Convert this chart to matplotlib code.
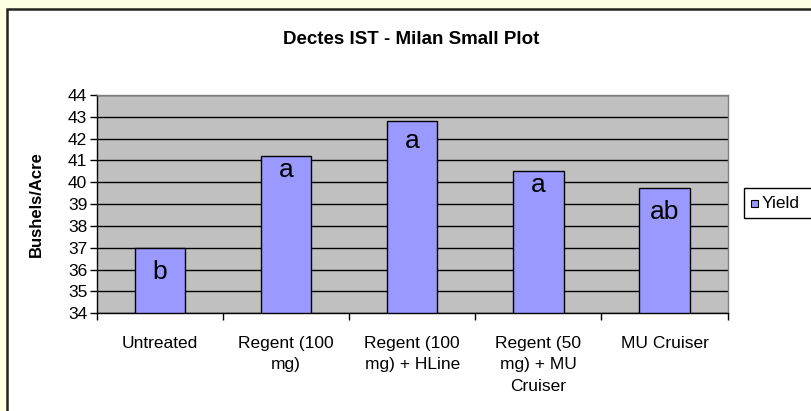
import matplotlib
matplotlib.use("Agg")
import matplotlib.pyplot as plt
from matplotlib.patches import Rectangle
import numpy as np

plt.rcParams['font.family'] = ['Liberation Sans', 'DejaVu Sans']

# data
categories = ["Untreated", "Regent (100\nmg)", "Regent (100\nmg) + HLine",
              "Regent (50\nmg) + MU\nCruiser", "MU Cruiser"]
yield_vals = [37.0, 41.2, 42.8, 40.5, 39.75]
letters = ["b", "a", "a", "a", "ab"]
letter_y = [35.9, 40.55, 41.9, 39.9, 38.65]
series_name = "Yield"
bar_color = "#9999FF"

W, H = 811, 411
fig = plt.figure(figsize=(W / 100, H / 100), dpi=100)
fig.patch.set_facecolor("#FFFFE3")

def px(x0, y0):
    # pixel (from top-left) -> figure fraction
    return (x0 / W, 1 - y0 / H)

# white chart area with dark frame
fig.patches.append(Rectangle(px(7, 440), 1.0, 431 / H,
                             transform=fig.transFigure, facecolor="white",
                             edgecolor="#222222", linewidth=1.8, zorder=-10))

ax = fig.add_axes([97 / W, 1 - 313.3 / H, 630.5 / W, (313.3 - 95) / H])
ax.set_facecolor("#C0C0C0")

x = np.arange(len(categories))
ax.bar(x, [v - 34 for v in yield_vals], bottom=34, width=0.4,
       color=bar_color, edgecolor="black", linewidth=1.0, zorder=3)

for xi, lt, ly in zip(x, letters, letter_y):
    ax.text(xi, ly, lt, ha="center", va="center", fontsize=19, zorder=4)

ax.set_xlim(-0.5, len(categories) - 0.5)
ax.set_ylim(34, 44)
ax.set_yticks(np.arange(34, 45, 1))
ax.yaxis.grid(True, color="black", linewidth=1.0, zorder=1)
ax.set_axisbelow(True)

# excel-style ticks between categories, labels centered
ax.set_xticks(np.arange(-0.5, len(categories), 1))
ax.set_xticklabels([])
ax.set_xticks(x, minor=True)
ax.set_xticklabels(categories, minor=True, fontsize=12.5, linespacing=1.58,
                   va="top")
ax.tick_params(axis="x", which="minor", length=0, pad=16)
ax.tick_params(axis="x", which="major", length=5, width=1, direction="out")
ax.tick_params(axis="y", length=5, width=1, direction="out", labelsize=12.5, pad=2)

for s in ["top", "right"]:
    ax.spines[s].set_color("#808080")
    ax.spines[s].set_linewidth(1.0)
for s in ["left", "bottom"]:
    ax.spines[s].set_color("black")
    ax.spines[s].set_linewidth(1.0)

ax.set_ylabel("Bushels/Acre", fontsize=12, fontweight="bold", labelpad=17)
fig.text(411 / W, 1 - 40 / H, "Dectes IST - Milan Small Plot", ha="center",
         va="center", fontsize=13.5, fontweight="bold")

# legend box (runs off the right edge like the original)
fig.patches.append(Rectangle(px(744, 218), 80 / W, 30 / H,
                             transform=fig.transFigure, facecolor="white",
                             edgecolor="black", linewidth=1.0))
fig.patches.append(Rectangle(px(751, 207.5), 7 / W, 7 / H,
                             transform=fig.transFigure, facecolor=bar_color,
                             edgecolor="black", linewidth=0.8))
fig.text(762 / W, 1 - 203 / H, series_name, ha="left", va="center", fontsize=12.5)

fig.savefig("out.png", dpi=100, facecolor=fig.get_facecolor())
